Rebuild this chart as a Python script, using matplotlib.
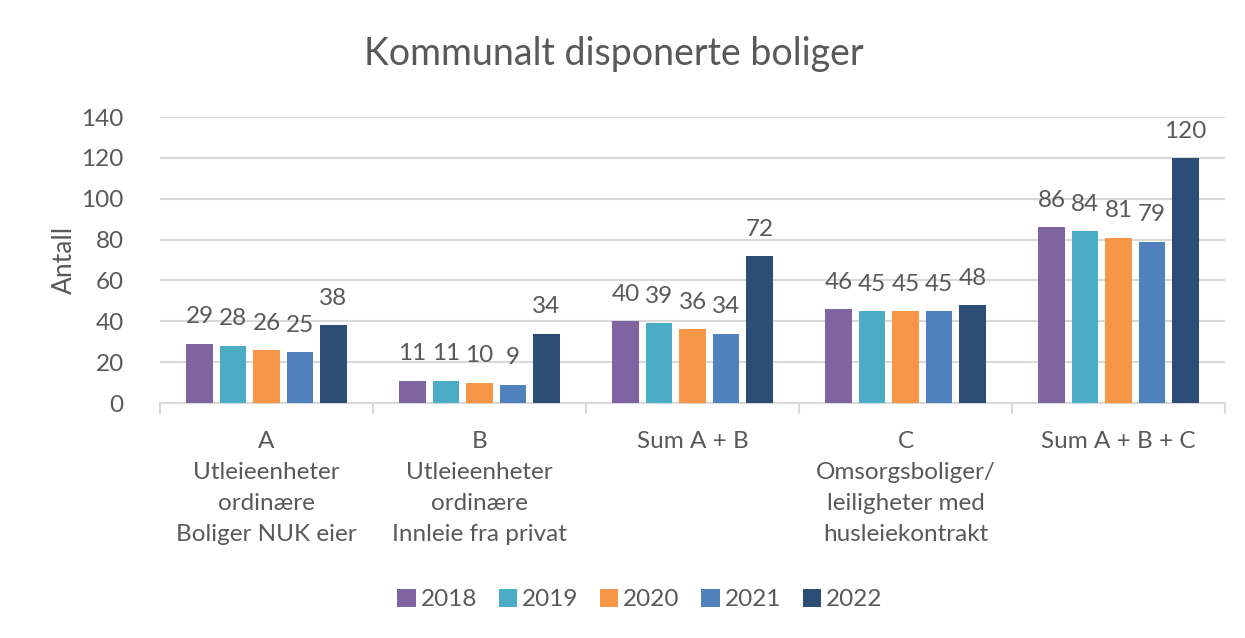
import numpy as np
import matplotlib.pyplot as plt

plt.rcParams['font.family'] = ['Lato', 'DejaVu Sans']

categories = ["A\nUtleieenheter\nordinære\nBoliger NUK eier",
              "B\nUtleieenheter\nordinære\nInnleie fra privat",
              "Sum A + B",
              "C\nOmsorgsboliger/\nleiligheter med\nhusleiekontrakt",
              "Sum A + B + C"]
years = ["2018", "2019", "2020", "2021", "2022"]
values = {
    "2018": [29, 11, 40, 46, 86],
    "2019": [28, 11, 39, 45, 84],
    "2020": [26, 10, 36, 45, 81],
    "2021": [25, 9, 34, 45, 79],
    "2022": [38, 34, 72, 48, 120],
}
colors = ["#8064A2", "#4BACC6", "#F79646", "#4F81BD", "#2C4D75"]

txt = "#595959"
fs = 17.5
fig = plt.figure(figsize=(12.45, 6.38), dpi=100)
ax = fig.add_axes([0.1285, 0.3683, 0.8555, 0.4483])

x = np.arange(len(categories))
step = 0.157
w = 0.125
for i, yr in enumerate(years):
    pos = x + (i - 2) * step
    bars = ax.bar(pos, values[yr], w, color=colors[i], label=yr, zorder=3)
    for b, v in zip(bars, values[yr]):
        ax.text(b.get_x() + b.get_width() / 2, v + 8, str(v), ha="center",
                va="bottom", fontsize=fs, color=txt)

ax.set_xlim(-0.5, len(categories) - 0.5)
ax.set_ylim(0, 140)
ax.set_yticks(range(0, 141, 20))
ax.yaxis.grid(True, color="#d9d9d9", linewidth=1.5, zorder=0)
ax.tick_params(axis="y", length=0, labelsize=fs, labelcolor=txt, pad=26)
ax.set_xticks(x)
ax.set_xticklabels(categories, fontsize=fs, color=txt, linespacing=1.6)
ax.tick_params(axis="x", length=0, pad=20)
ax.set_xticks(np.arange(-0.5, len(categories)), minor=True)
ax.tick_params(axis="x", which="minor", length=8, width=1.5, color="#d9d9d9")
for s in ["top", "right", "left"]:
    ax.spines[s].set_visible(False)
ax.spines["bottom"].set_color("#d9d9d9")
ax.spines["bottom"].set_linewidth(1.5)
ax.set_ylabel("Antall", fontsize=19, color=txt, labelpad=3)

fig.text(0.493, 0.898, "Kommunalt disponerte boliger", ha="center",
         va="baseline", fontsize=27, color=txt)
fig.legend(loc="center", bbox_to_anchor=(0.514, 0.06), ncol=5, frameon=False,
           fontsize=fs, labelcolor=txt, handlelength=0.75, handleheight=0.75,
           handletextpad=0.2, columnspacing=0.9)

fig.savefig("out.png", dpi=100, facecolor="white")
